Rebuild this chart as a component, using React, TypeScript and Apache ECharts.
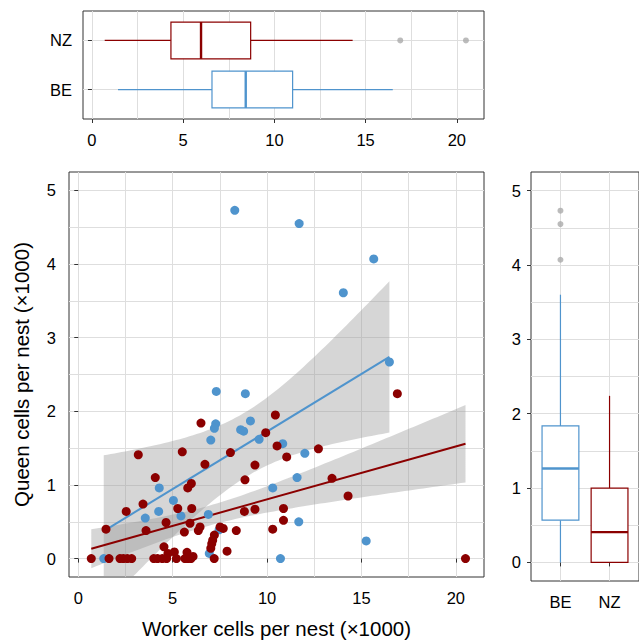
import React, { useEffect, useRef } from "react";
import * as echarts from "echarts";

// ---- Data ----
const groups = ["BE", "NZ"];

const beWorker = [8.29, 11.7, 15.65, 14.04, 16.48, 7.31, 8.85, 7.28, 7.21, 9.12, 8.6, 8.76, 9.58, 7.02, 10.83, 12.0, 11.59, 10.3, 4.29, 5.04, 3.55, 4.26, 5.44, 6.89, 11.68, 7.46, 6.94, 15.25, 1.35, 10.71];
const beQueen = [4.73, 4.55, 4.07, 3.61, 2.67, 2.27, 2.24, 1.83, 1.77, 1.87, 1.75, 1.73, 1.62, 1.61, 1.56, 1.43, 1.1, 0.96, 0.96, 0.79, 0.55, 0.64, 0.58, 0.6, 0.5, 0.39, 0.07, 0.24, 0, 0];

const nzWorker = [10.44, 16.9, 10.53, 12.72, 11.04, 13.44, 14.29, 10.87, 10.87, 10.3, 20.51, 6.5, 9.93, 3.18, 5.51, 8.06, 6.71, 9.36, 4.08, 5.99, 5.8, 8.83, 3.43, 5.27, 6.01, 8.8, 9.36, 2.54, 4.65, 5.92, 1.47, 3.59, 5.62, 6.36, 6.45, 7.51, 7.68, 8.37, 7.21, 7.12, 7.07, 7.02, 4.54, 5.09, 5.76, 4.75, 7.88, 6.08, 0.69, 1.63, 2.21, 2.39, 2.6, 2.83, 4.0, 4.2, 4.45, 4.68, 5.2, 5.65, 5.8, 5.97, 7.2];
const nzQueen = [1.95, 2.24, 1.53, 1.49, 1.38, 1.09, 0.85, 0.68, 0.52, 0.4, 0, 1.84, 1.71, 1.41, 1.45, 1.44, 1.28, 1.27, 1.1, 1.02, 0.96, 1.07, 0.74, 0.68, 0.68, 0.64, 0.67, 0.64, 0.49, 0.48, 0.4, 0.38, 0.36, 0.38, 0.43, 0.43, 0.41, 0.38, 0.32, 0.25, 0.2, 0.14, 0.16, 0.09, 0.085, 0.07, 0.1, 0.03, 0, 0, 0, 0, 0, 0, 0, 0, 0, 0, 0, 0, 0, 0, 0];

// box stats: [lower whisker, Q1, median, Q3, upper whisker]
const beWorkerBox = [1.43, 6.58, 8.43, 11.0, 16.49];
const nzWorkerBox = [0.7, 4.33, 5.98, 8.7, 14.29];
const nzWorkerOutliers = [16.9, 20.5];
const beQueenBox = [0, 0.568, 1.262, 1.835, 3.6];
const nzQueenBox = [0, 0, 0.407, 0.998, 2.24];
const beQueenOutliers = [4.07, 4.55, 4.73];

const xTicks = [0, 5, 10, 15, 20];
const xGridLines = [0, 2.5, 5, 7.5, 10, 12.5, 15, 17.5, 20];
const yTicks = [0, 1, 2, 3, 4, 5];
const yGridLines = [0, 0.5, 1, 1.5, 2, 2.5, 3, 3.5, 4, 4.5, 5];
const groupPos = [1, 2];

const BLUE = "#4F94CD";
const RED = "#8B0000";
const FONT = "'Liberation Sans', Arial, sans-serif";
const TEXT = "#000";
const GRIDLINE = "#dedede";

function tQuantile975(df: number) {
  const z = 1.959964;
  const g1 = (z ** 3 + z) / 4;
  const g2 = (5 * z ** 5 + 16 * z ** 3 + 3 * z) / 96;
  const g3 = (3 * z ** 7 + 19 * z ** 5 + 17 * z ** 3 - 15 * z) / 384;
  return z + g1 / df + g2 / df ** 2 + g3 / df ** 3;
}

function fitBand(xs: number[], ys: number[], steps = 80) {
  const n = xs.length;
  const mx = xs.reduce((a, b) => a + b, 0) / n;
  const my = ys.reduce((a, b) => a + b, 0) / n;
  let sxx = 0, sxy = 0;
  for (let i = 0; i < n; i++) {
    sxx += (xs[i] - mx) ** 2;
    sxy += (xs[i] - mx) * (ys[i] - my);
  }
  const b = sxy / sxx;
  const a = my - b * mx;
  let sse = 0;
  for (let i = 0; i < n; i++) sse += (ys[i] - (a + b * xs[i])) ** 2;
  const s = Math.sqrt(sse / (n - 2));
  const t = tQuantile975(n - 2);
  const x0 = Math.min(...xs), x1 = Math.max(...xs);
  const upper: number[][] = [], lower: number[][] = [];
  for (let k = 0; k <= steps; k++) {
    const x = x0 + ((x1 - x0) * k) / steps;
    const f = a + b * x;
    const se = s * Math.sqrt(1 / n + (x - mx) ** 2 / sxx);
    upper.push([x, f + t * se]);
    lower.push([x, f - t * se]);
  }
  return { line: [[x0, a + b * x0], [x1, a + b * x1]], upper, lower };
}

const tickLabel = { fontSize: 16.5, color: TEXT, fontFamily: FONT };

function gridAxis(gridIndex: number, min: number, max: number, values: number[]) {
  return {
    type: "value", gridIndex, min, max,
    axisLine: { show: false }, axisLabel: { show: false },
    axisTick: { show: false, customValues: values },
    splitLine: { show: true, lineStyle: { color: GRIDLINE, width: 1 } },
  };
}

function mainAxis(gridIndex: number, min: number, max: number, values: number[], margin: number, extra: any = {}) {
  return {
    type: "value", gridIndex, min, max,
    axisLine: { show: false },
    axisTick: { show: true, length: 4, customValues: values, lineStyle: { color: "#333" } },
    axisLabel: { ...tickLabel, margin, customValues: values },
    splitLine: { show: false },
    ...extra,
  };
}

export default function App() {
  const ref = useRef<HTMLDivElement>(null);
  useEffect(() => {
    if (!ref.current) return;
    const chart = echarts.init(ref.current, undefined, { renderer: "svg" });
    const beFit = fitBand(beWorker, beQueen);
    const nzFit = fitBand(nzWorker, nzQueen);
    const catFmt = (v: number) => (v === 1 ? groups[0] : v === 2 ? groups[1] : "");

    const ribbon = (band: any) => ({
      type: "custom", xAxisIndex: 2, yAxisIndex: 1, silent: true, z: 1,
      data: [[0, 0]],
      renderItem: (params: any, api: any) => {
        const pts = [
          ...band.upper.map((p: number[]) => api.coord(p)),
          ...band.lower.slice().reverse().map((p: number[]) => api.coord(p)),
        ];
        const cs = params.coordSys;
        const clipped = echarts.graphic.clipPointsByRect(pts, { x: cs.x, y: cs.y, width: cs.width, height: cs.height });
        return { type: "polygon", shape: { points: clipped }, style: { fill: "rgba(153,153,153,0.4)" } };
      },
    });

    const boxColors = [BLUE, RED];
    const boxSeries = (xi: number, yi: number, horizontal: boolean, rows: number[][]) => ({
      type: "custom", xAxisIndex: xi, yAxisIndex: yi, silent: true, z: 3,
      data: rows,
      renderItem: (params: any, api: any) => {
        const pos = api.value(0);
        const v = [1, 2, 3, 4, 5].map((i) => api.value(i));
        const color = boxColors[params.dataIndex];
        const half = 0.375;
        const c = (val: number, p: number) => (horizontal ? api.coord([val, p]) : api.coord([p, val]));
        const lw = 1.2;
        const lo = c(v[0], pos), q1 = c(v[1], pos), q3 = c(v[3], pos), hi = c(v[4], pos);
        const a1 = c(v[1], pos - half), a2 = c(v[3], pos + half);
        const m1 = c(v[2], pos - half), m2 = c(v[2], pos + half);
        const rx = Math.min(a1[0], a2[0]), ry = Math.min(a1[1], a2[1]);
        return {
          type: "group",
          children: [
            { type: "line", shape: { x1: lo[0], y1: lo[1], x2: q1[0], y2: q1[1] }, style: { stroke: color, lineWidth: lw } },
            { type: "line", shape: { x1: q3[0], y1: q3[1], x2: hi[0], y2: hi[1] }, style: { stroke: color, lineWidth: lw } },
            { type: "rect", shape: { x: rx, y: ry, width: Math.abs(a2[0] - a1[0]), height: Math.abs(a2[1] - a1[1]) }, style: { fill: "#fff", stroke: color, lineWidth: lw } },
            { type: "line", shape: { x1: m1[0], y1: m1[1], x2: m2[0], y2: m2[1] }, style: { stroke: color, lineWidth: 2.4 } },
          ],
        };
      },
    });

    const option: any = {
      animation: false,
      backgroundColor: "#fff",
      textStyle: { fontFamily: FONT },
      grid: [
        { left: 83, top: 11, width: 401, height: 108, show: true, borderColor: "#333", borderWidth: 1, containLabel: false },
        { left: 69, top: 172, width: 415, height: 409, show: true, borderColor: "#333", borderWidth: 1, containLabel: false },
        { left: 531, top: 172, width: 115, height: 409, show: true, borderColor: "#333", borderWidth: 1, containLabel: false },
      ],
      xAxis: [
        mainAxis(0, -0.49, 21.49, xTicks, 12, { position: "bottom" }),
        gridAxis(0, -0.49, 21.49, xGridLines),
        mainAxis(1, -0.49, 21.49, xTicks, 12, {
          position: "bottom",
          name: "Worker cells per nest (×1000)", nameLocation: "middle", nameGap: 41,
          nameTextStyle: { fontSize: 20.5, color: TEXT, fontFamily: FONT },
        }),
        gridAxis(1, -0.49, 21.49, xGridLines),
        {
          ...mainAxis(2, 0.4, 2.6, groupPos, 12, { position: "bottom" }),
          axisLabel: { ...tickLabel, margin: 12, customValues: groupPos, formatter: catFmt },
          splitLine: { show: true, lineStyle: { color: GRIDLINE, width: 1 } },
        },
      ],
      yAxis: [
        {
          ...mainAxis(0, 0.4, 2.6, groupPos, 11, { position: "left" }),
          axisLabel: { ...tickLabel, margin: 11, customValues: groupPos, formatter: catFmt },
          splitLine: { show: true, lineStyle: { color: GRIDLINE, width: 1 } },
        },
        mainAxis(1, -0.25, 5.25, yTicks, 13, {
          position: "left",
          name: "Queen cells per nest (×1000)", nameLocation: "middle", nameGap: 37, nameRotate: 90,
          nameTextStyle: { fontSize: 20.5, color: TEXT, fontFamily: FONT },
        }),
        gridAxis(1, -0.25, 5.25, yGridLines),
        mainAxis(2, -0.25, 5.25, yTicks, 10, { position: "left" }),
        gridAxis(2, -0.25, 5.25, yGridLines),
      ],
      series: [
        // top boxplot (worker cells)
        boxSeries(0, 0, true, [[groupPos[0], ...beWorkerBox], [groupPos[1], ...nzWorkerBox]]),
        {
          type: "scatter", xAxisIndex: 0, yAxisIndex: 0, symbolSize: 6, z: 4,
          itemStyle: { color: "#aaaaaa" },
          data: nzWorkerOutliers.map((x) => [x, groupPos[1]]),
        },
        // scatter panel
        ribbon(beFit),
        ribbon(nzFit),
        {
          type: "line", xAxisIndex: 2, yAxisIndex: 1, symbol: "none", z: 2,
          lineStyle: { color: BLUE, width: 2 }, data: beFit.line,
        },
        {
          type: "line", xAxisIndex: 2, yAxisIndex: 1, symbol: "none", z: 2,
          lineStyle: { color: RED, width: 2 }, data: nzFit.line,
        },
        {
          type: "scatter", xAxisIndex: 2, yAxisIndex: 1, symbolSize: 9, z: 3,
          itemStyle: { color: BLUE, opacity: 1 },
          data: beWorker.map((x, i) => [x, beQueen[i]]),
        },
        {
          type: "scatter", xAxisIndex: 2, yAxisIndex: 1, symbolSize: 9, z: 3,
          itemStyle: { color: RED, opacity: 1 },
          data: nzWorker.map((x, i) => [x, nzQueen[i]]),
        },
        // right boxplot (queen cells)
        boxSeries(4, 3, false, [[groupPos[0], ...beQueenBox], [groupPos[1], ...nzQueenBox]]),
        {
          type: "scatter", xAxisIndex: 4, yAxisIndex: 3, symbolSize: 6, z: 4,
          itemStyle: { color: "#aaaaaa" },
          data: beQueenOutliers.map((y) => [groupPos[0], y]),
        },
      ],
    };
    chart.setOption(option);
    return () => chart.dispose();
  }, []);
  return <div ref={ref} style={{ position: "absolute", left: 0, top: 0, width: 639, height: 644 }} />;
}
